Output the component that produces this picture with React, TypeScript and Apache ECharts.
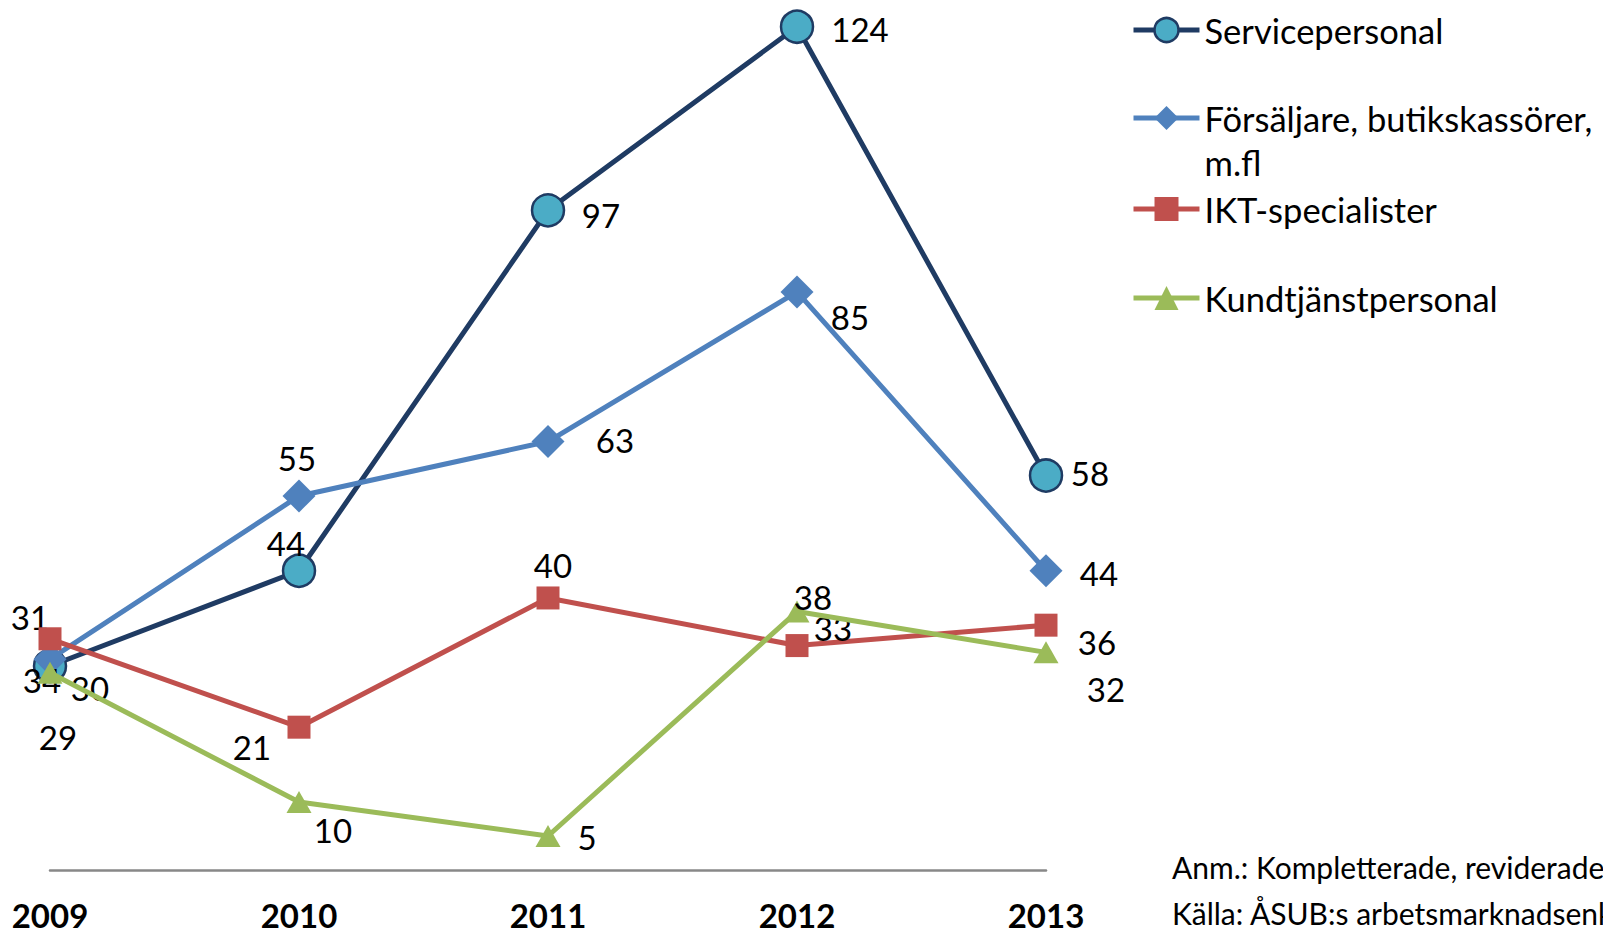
import React, { useEffect, useRef } from "react";
import * as echarts from "echarts";

const years = ["2009", "2010", "2011", "2012", "2013"];
const servicepersonal = [30, 44, 97, 124, 58];
const forsaljare = [31, 55, 63, 85, 44];
const iktSpecialister = [34, 21, 40, 33, 36];
const kundtjanst = [29, 10, 5, 38, 32];
const seriesNames = [
  "Servicepersonal",
  "Försäljare, butikskassörer, m.fl",
  "IKT-specialister",
  "Kundtjänstpersonal",
];
const legendTexts = [
  "Servicepersonal",
  "\nFörsäljare, butikskassörer,\nm.fl",
  "IKT-specialister",
  "Kundtjänstpersonal",
];
const notes = ["Anm.: Kompletterade, reviderade", "Källa: ÅSUB:s arbetsmarknadsenk"];

// label placement (style only)
const labelOffsets: number[][][] = [
  [[40, 22], [-13, -28], [53, 5], [63, 2], [44, -3]],
  [[-20, -42], [-2, -38], [67, -2], [53, 25], [53, 2]],
  [[-8, 41], [-47, 20], [5, -33], [36, -18], [51, 17]],
  [[8, 64], [34, 28], [39, 1], [16, -15], [60, 37]],
];

const FONT = "Lato";
const LABEL_SIZE = 33;
const LEGEND_SIZE = 34.5;

export default function App() {
  const ref = useRef<HTMLDivElement>(null);
  useEffect(() => {
    document.body.style.margin = "0";
    document.body.style.overflow = "hidden";
    if (!ref.current) return;
    const chart = echarts.init(ref.current, undefined, { renderer: "svg" });

    const seriesValues = [servicepersonal, forsaljare, iktSpecialister, kundtjanst];
    const styles = [
      { line: "#1F3B63", fill: "#4BACC6", border: "#1F3B63", bw: 2.5, symbol: "circle", size: 32 },
      { line: "#4F81BD", fill: "#4F81BD", border: "#4F81BD", bw: 0, symbol: "diamond", size: 33 },
      { line: "#C0504D", fill: "#C0504D", border: "#C0504D", bw: 0, symbol: "rect", size: 23 },
      { line: "#9BBB59", fill: "#9BBB59", border: "#9BBB59", bw: 0, symbol: "triangle", size: [25, 22] },
    ];

    const series = seriesValues.map((vals, i) => ({
      type: "line",
      name: seriesNames[i],
      data: vals.map((v, j) => ({
        value: v,
        label: { offset: labelOffsets[i][j] },
      })),
      symbol: styles[i].symbol,
      symbolSize: styles[i].size,
      lineStyle: { color: styles[i].line, width: 5 },
      itemStyle: {
        color: styles[i].fill,
        borderColor: styles[i].border,
        borderWidth: styles[i].bw,
      },
      label: {
        show: true,
        position: "inside",
        color: "#000",
        textBorderWidth: 0,
        fontFamily: FONT,
        fontSize: LABEL_SIZE,
        align: "center",
        verticalAlign: "middle",
      },
      emphasis: { disabled: true },
      z: 2 + i,
    }));

    const iconCenters = [30, 118, 209, 298];
    const legends = seriesNames.map((name, i) => {
      const lh = i === 1 ? 44 : 36;
      const lines = i === 1 ? 3 : 1;
      return {
        show: true,
        data: [name],
        orient: "vertical",
        left: 1131,
        top: iconCenters[i] - (lh * lines) / 2,
        padding: 0,
        itemWidth: 66,
        itemHeight: 30,
        selectedMode: false,
        formatter: () => legendTexts[i],
        lineStyle: { width: 5 },
        itemStyle: { borderWidth: styles[i].bw },
        textStyle: {
          fontFamily: FONT,
          fontSize: LEGEND_SIZE,
          color: "#000",
          lineHeight: lh,
        },
      };
    });

    chart.setOption({
      animation: false,
      grid: { left: 50, right: 557, top: 26.7, bottom: 62, outerBoundsMode: "none", containLabel: false },
      xAxis: {
        type: "category",
        data: years,
        boundaryGap: false,
        axisLine: { lineStyle: { color: "#888888", width: 2.5 } },
        axisTick: { show: false },
        axisLabel: {
          fontFamily: FONT,
          fontWeight: "bold",
          fontSize: 33,
          lineHeight: 28,
          color: "#000",
          margin: 31,
        },
        splitLine: { show: false },
      },
      yAxis: {
        type: "value",
        min: 0,
        max: "dataMax",
        show: false,
        splitLine: { show: false },
      },
      legend: legends,
      series,
      graphic: notes.map((t, i) => ({
        type: "text",
        left: 1172,
        top: 852 + i * 46,
        style: { text: t, fontFamily: FONT, fontSize: 30, fill: "#000" },
      })),
    });
    return () => chart.dispose();
  }, []);
  return <div ref={ref} style={{ width: 1603, height: 932 }} />;
}
